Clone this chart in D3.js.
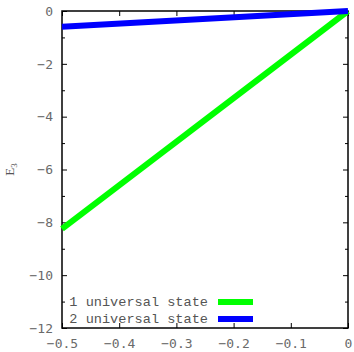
<!DOCTYPE html>
<meta charset="utf-8">
<script src="https://d3js.org/d3.v7.min.js"></script>
<style>
  body { margin: 0; background: #fff; }
</style>
<body>
<div id="chart"></div>
<script>
  // data
  var xValues = [-0.5, 0];
  var state1 = [-8.25, 0];
  var state2 = [-0.6, 0];
  var seriesNames = ["1 universal state", "2 universal state"];
  var seriesColors = ["#00ff00", "#0000ff"];
  var xTicks = [-0.5, -0.4, -0.3, -0.2, -0.1, 0];
  var yTicks = [0, -2, -4, -6, -8, -10, -12];
  var yMinor = [-1, -3, -5, -7, -9, -11];

  var margin = { top: 11, right: 6, bottom: 24, left: 62 },
    width = 354 - margin.left - margin.right,
    height = 352 - margin.top - margin.bottom;

  var svg = d3.select("#chart")
    .append("svg")
    .attr("width", 354)
    .attr("height", 352)
    .append("g")
    .attr("transform", "translate(" + margin.left + "," + margin.top + ")");

  var x = d3.scaleLinear().domain([-0.5, 0]).range([0, width]);
  var y = d3.scaleLinear().domain([-12, 0]).range([height, 0]);

  var fmt = function (d) { return d === 0 ? "0" : d3.format(".1f")(d).replace("-", "\u2212"); };
  var fmtY = function (d) { return String(d).replace("-", "\u2212"); };

  // axes: ticks pointing inward, on all four sides like gnuplot
  function styleAxis(g) {
    g.select(".domain").remove();
    g.selectAll(".tick line").attr("stroke", "#000");
    g.selectAll(".tick text")
      .attr("fill", "#6a6a6a")
      .style("font-family", "DejaVu Sans Mono, monospace")
      .style("font-size", "13px");
  }

  svg.append("g")
    .attr("transform", "translate(0," + height + ")")
    .call(d3.axisBottom(x).tickValues(xTicks).tickFormat(fmt).tickSizeInner(-5).tickPadding(11))
    .call(styleAxis);
  svg.append("g")
    .call(d3.axisTop(x).tickValues(xTicks).tickFormat("").tickSizeInner(-5))
    .call(styleAxis);
  svg.append("g")
    .call(d3.axisLeft(y).tickValues(yTicks).tickFormat(fmtY).tickSizeInner(-5).tickPadding(9))
    .call(styleAxis);
  svg.append("g")
    .call(d3.axisLeft(y).tickValues(yMinor).tickFormat("").tickSizeInner(-3))
    .call(styleAxis);
  svg.append("g")
    .attr("transform", "translate(" + width + ",0)")
    .call(d3.axisRight(y).tickValues(yTicks).tickFormat("").tickSizeInner(-5))
    .call(styleAxis);
  svg.append("g")
    .attr("transform", "translate(" + width + ",0)")
    .call(d3.axisRight(y).tickValues(yMinor).tickFormat("").tickSizeInner(-3))
    .call(styleAxis);

  // frame
  svg.append("rect")
    .attr("width", width)
    .attr("height", height)
    .attr("fill", "none")
    .attr("stroke", "#000")
    .attr("stroke-width", 1.5);

  // y label
  var lab = svg.append("text")
    .attr("transform", "translate(" + (-48) + "," + (height / 2) + ") rotate(-90)")
    .attr("text-anchor", "middle")
    .attr("fill", "#555")
    .style("font-family", "Liberation Serif, serif")
    .style("font-size", "13px");
  lab.append("tspan").text("E");
  lab.append("tspan").attr("dy", 3).style("font-size", "9px").text("3");

  // lines
  var line = d3.line()
    .x(function (d) { return x(d[0]); })
    .y(function (d) { return y(d[1]); });

  var series = [state1, state2];
  series.forEach(function (vals, i) {
    svg.append("path")
      .datum(xValues.map(function (v, j) { return [v, vals[j]]; }))
      .attr("d", line)
      .attr("fill", "none")
      .attr("stroke", seriesColors[i])
      .attr("stroke-width", 6);
  });

  // legend
  seriesNames.forEach(function (name, i) {
    var ly = 291 + i * 17;
    svg.append("text")
      .attr("x", 146)
      .attr("y", ly + 4)
      .attr("text-anchor", "end")
      .attr("fill", "#555")
      .style("font-family", "Liberation Mono, monospace")
      .style("font-size", "13.6px")
      .text(name);
    svg.append("line")
      .attr("x1", 156)
      .attr("x2", 191)
      .attr("y1", ly)
      .attr("y2", ly)
      .attr("stroke", seriesColors[i])
      .attr("stroke-width", 6);
  });
</script>
</body>
